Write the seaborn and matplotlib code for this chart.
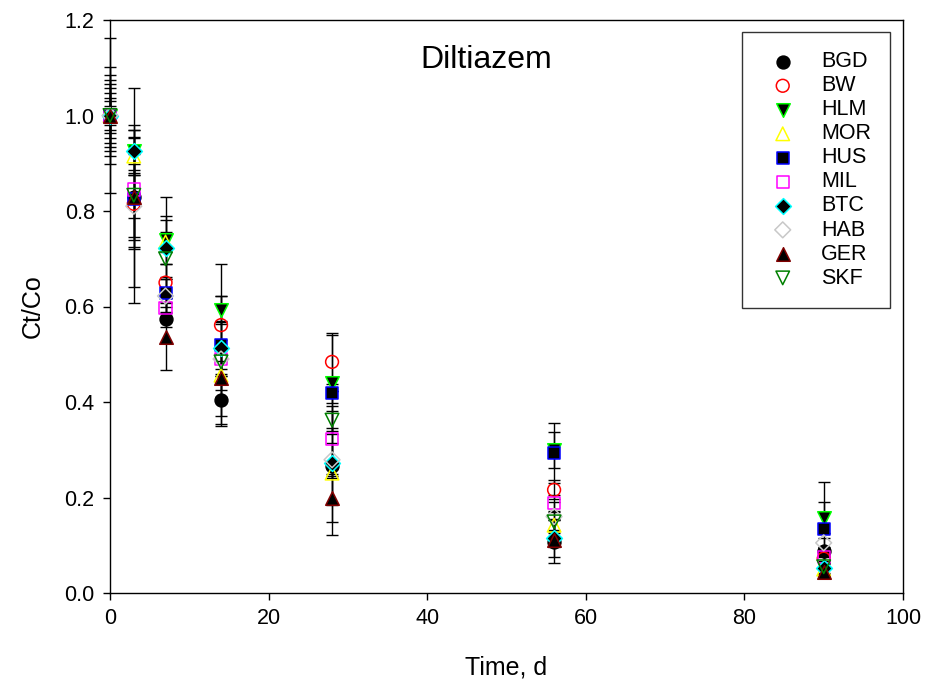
import numpy as np
import pandas as pd
import matplotlib
matplotlib.use("Agg")
import matplotlib.pyplot as plt
import seaborn as sns

# ---- data ----
days = [0, 3, 7, 14, 28, 56, 90]
series = ["BGD", "BW", "HLM", "MOR", "HUS", "MIL", "BTC", "HAB", "GER", "SKF"]

BGD = [1.0, 0.830, 0.573, 0.404, 0.265, 0.107, 0.087]
BW  = [1.0, 0.815, 0.650, 0.561, 0.484, 0.216, 0.072]
HLM = [1.0, 0.925, 0.739, 0.593, 0.440, 0.300, 0.158]
MOR = [1.0, 0.915, 0.735, 0.456, 0.251, 0.142, 0.050]
HUS = [1.0, 0.825, 0.628, 0.519, 0.418, 0.294, 0.133]
MIL = [1.0, 0.845, 0.597, 0.490, 0.322, 0.188, 0.076]
BTC = [1.0, 0.926, 0.722, 0.513, 0.272, 0.115, 0.052]
HAB = [1.0, 0.810, 0.622, 0.490, 0.279, 0.160, 0.105]
GER = [1.0, 0.830, 0.537, 0.450, 0.199, 0.111, 0.045]
SKF = [1.0, 0.833, 0.700, 0.484, 0.362, 0.149, 0.055]

BGD_err = [0.163, 0.045, 0.015, 0.050, 0.080, 0.045, 0.010]
BW_err  = [0.102, 0.070, 0.040, 0.060, 0.060, 0.020, 0.010]
HLM_err = [0.084, 0.045, 0.050, 0.030, 0.100, 0.038, 0.033]
MOR_err = [0.075, 0.040, 0.020, 0.030, 0.010, 0.010, 0.010]
HUS_err = [0.066, 0.100, 0.030, 0.170, 0.020, 0.063, 0.100]
MIL_err = [0.057, 0.125, 0.020, 0.020, 0.060, 0.017, 0.010]
BTC_err = [0.047, 0.027, 0.060, 0.055, 0.150, 0.040, 0.010]
HAB_err = [0.037, 0.170, 0.035, 0.080, 0.035, 0.030, 0.010]
GER_err = [0.030, 0.090, 0.070, 0.080, 0.050, 0.014, 0.010]
SKF_err = [0.020, 0.225, 0.130, 0.030, 0.030, 0.020, 0.020]

values = dict(BGD=BGD, BW=BW, HLM=HLM, MOR=MOR, HUS=HUS, MIL=MIL,
              BTC=BTC, HAB=HAB, GER=GER, SKF=SKF)
errors = dict(BGD=BGD_err, BW=BW_err, HLM=HLM_err, MOR=MOR_err, HUS=HUS_err,
              MIL=MIL_err, BTC=BTC_err, HAB=HAB_err, GER=GER_err, SKF=SKF_err)

rows = []
for s in series:
    for d, v, e in zip(days, values[s], errors[s]):
        rows.append(dict(series=s, day=d, value=v, err=e))
df = pd.DataFrame(rows)

# ---- styles: marker, face, edge, size ----
styles = {
    "BGD": ("o", "black", "black", 85),
    "BW":  ("o", "none", "red", 85),
    "HLM": ("v", "black", "#00ff00", 95),
    "MOR": ("^", "none", "#ffff00", 95),
    "HUS": ("s", "black", "#0000ff", 75),
    "MIL": ("s", "none", "#ff00ff", 75),
    "BTC": ("D", "black", "#00ffff", 65),
    "HAB": ("D", "none", "#c8c8c8", 65),
    "GER": ("^", "black", "#800000", 95),
    "SKF": ("v", "none", "#008000", 95),
}

sns.set_style("ticks")
plt.rcParams["font.family"] = ["Liberation Sans", "DejaVu Sans"]
plt.rcParams["text.color"] = "black"
plt.rcParams["axes.labelcolor"] = "black"

fig = plt.figure(figsize=(9.26, 6.88), dpi=100)
ax = fig.add_axes([110 / 926, 95 / 688, 793 / 926, 573 / 688])

for s in series:
    sub = df[df["series"] == s]
    ax.errorbar(sub["day"], sub["value"], yerr=sub["err"], fmt="none",
                ecolor="black", elinewidth=1.0, capsize=4.5, capthick=1.0,
                zorder=2, clip_on=False)

for s in series:
    sub = df[df["series"] == s]
    m, fc, ec, sz = styles[s]
    sns.scatterplot(data=sub, x="day", y="value", ax=ax, marker=m, s=sz,
                    facecolor=fc, edgecolor=ec, linewidth=1.1, label=s,
                    legend=False, zorder=3, clip_on=False)

ax.set_xlim(0, 100)
ax.set_ylim(0, 1.2)
ax.set_xticks([0, 20, 40, 60, 80, 100])
ax.set_yticks([0, 0.2, 0.4, 0.6, 0.8, 1.0, 1.2])
ax.set_yticklabels([f"{v:.1f}" for v in [0, 0.2, 0.4, 0.6, 0.8, 1.0, 1.2]])
ax.tick_params(direction="out", length=5, width=1, labelsize=15.5,
               colors="black", pad=6)
for sp in ax.spines.values():
    sp.set_visible(True)
    sp.set_color("black")
    sp.set_linewidth(1.0)

ax.set_xlabel("Time, d", fontsize=18, labelpad=19)
ax.set_ylabel("Ct/Co", fontsize=18, labelpad=14)
ax.text(0.474, 0.93, "Diltiazem", transform=ax.transAxes, fontsize=23,
        ha="center", va="center")

leg = ax.legend(loc="upper right", bbox_to_anchor=(0.984, 0.979),
                fontsize=15.5, frameon=True, fancybox=False, edgecolor="black",
                borderpad=0.9, labelspacing=0.14, handletextpad=0.8,
                borderaxespad=0, scatterpoints=1, handlelength=1.95)
leg.get_frame().set_linewidth(1.0)

fig.savefig("out.png", dpi=100)
